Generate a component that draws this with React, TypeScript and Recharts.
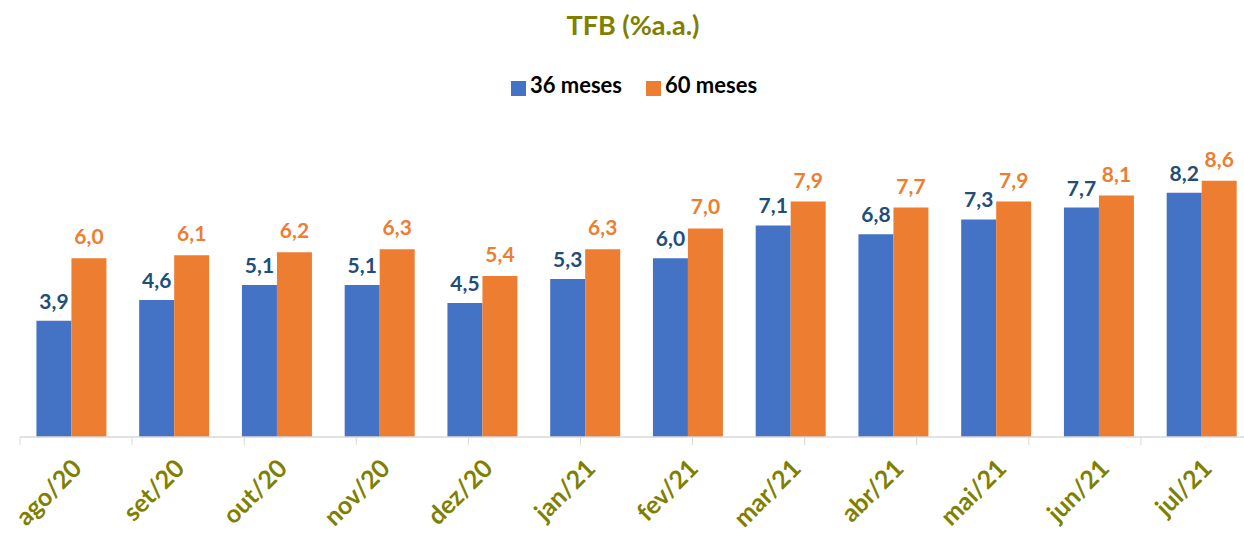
import { BarChart, Bar, XAxis, YAxis, Legend, LabelList } from 'recharts'

const MONTHS = ['ago/20', 'set/20', 'out/20', 'nov/20', 'dez/20', 'jan/21', 'fev/21', 'mar/21', 'abr/21', 'mai/21', 'jun/21', 'jul/21']
const MESES_36 = [3.9, 4.6, 5.1, 5.1, 4.5, 5.3, 6.0, 7.1, 6.8, 7.3, 7.7, 8.2]
const MESES_60 = [6.0, 6.1, 6.2, 6.3, 5.4, 6.3, 7.0, 7.9, 7.7, 7.9, 8.1, 8.6]
const EDGE_TICKS = [0, 1, 2, 3, 4, 5, 6, 7, 8, 9, 10, 11, 12]

const data = MONTHS.map((month, i) => ({ month, m36: MESES_36[i], m60: MESES_60[i] }))

const OLIVE = '#808000'
const FONT = 'Lato, "Open Sans", sans-serif'

const fmt = (v: any) => Number(v).toFixed(1).replace('.', ',')

function MonthTick({ x, y, payload }: any) {
  return (
    <text
      x={x + 12}
      y={y + 15}
      transform={`rotate(-45, ${x + 12}, ${y + 15})`}
      textAnchor="end"
      fill={OLIVE}
      fontSize={25}
      fontWeight={700}
      fontFamily={FONT}
    >
      {payload.value}
    </text>
  )
}

const NoTick = () => <g />

export default function App() {
  return (
    <div style={{ position: 'absolute', left: 0, top: 0, width: 1244, height: 536, overflow: 'hidden', background: '#fff', fontFamily: FONT }}>
      <div
        style={{
          position: 'absolute',
          top: 8,
          left: 0,
          width: 1266,
          textAlign: 'center',
          color: OLIVE,
          fontSize: 27,
          fontWeight: 700,
        }}
      >
        TFB (%a.a.)
      </div>
      <BarChart
        width={1260}
        height={536}
        data={data}
        margin={{ top: 112, right: 7, left: 20, bottom: 0 }}
        barCategoryGap="16%"
        barGap={0}
      >
        <YAxis hide domain={[0, 10]} />
        <XAxis
          xAxisId="a-edge"
          type="number"
          domain={[0, 12]}
          ticks={EDGE_TICKS}
          tick={NoTick}
          tickSize={8}
          tickLine={{ stroke: '#D9D9D9' }}
          axisLine={{ stroke: '#D9D9D9', strokeWidth: 1.5 }}
          height={10}
        />
        <XAxis
          xAxisId="b-cat"
          dataKey="month"
          axisLine={false}
          tickLine={false}
          interval={0}
          tick={<MonthTick />}
          height={89}
        />
        <Legend
          verticalAlign="top"
          align="center"
          iconType="square"
          iconSize={15}
          wrapperStyle={{ top: 71, left: 15, width: 1262 }}
          formatter={(value: any) => (
            <span style={{ color: '#000', fontWeight: 700, fontSize: 22, fontFamily: FONT, marginRight: 14 }}>{value}</span>
          )}
        />
        <Bar xAxisId="b-cat" dataKey="m36" name="36 meses" fill="#4472C4" isAnimationActive={false}>
          <LabelList
            dataKey="m36"
            position="top"
            offset={12}
            formatter={fmt}
            fill="#1F4E79"
            fontSize={21}
            fontWeight={700}
            fontFamily={FONT}
          />
        </Bar>
        <Bar xAxisId="b-cat" dataKey="m60" name="60 meses" fill="#ED7D31" isAnimationActive={false}>
          <LabelList
            dataKey="m60"
            position="top"
            offset={14}
            formatter={fmt}
            fill="#ED7D31"
            fontSize={21}
            fontWeight={700}
            fontFamily={FONT}
          />
        </Bar>
      </BarChart>
    </div>
  )
}
